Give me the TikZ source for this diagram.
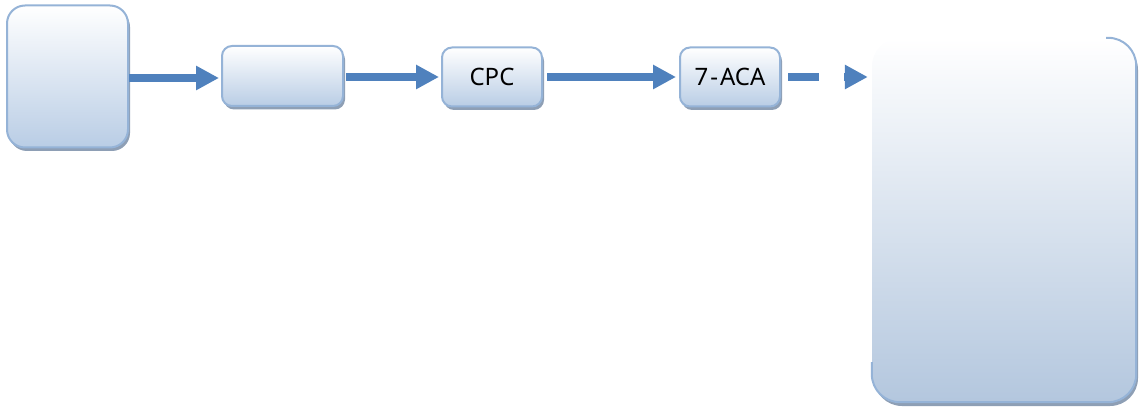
\documentclass[tikz,border=0pt]{standalone}
\usepackage{fontspec}
\newfontfamily\labelfont{Noto Sans}
\usetikzlibrary{arrows.meta,shadows}
\definecolor{boxborder}{HTML}{95B3D7}
\definecolor{boxbottom}{HTML}{B9CDE5}
\definecolor{shadowcol}{HTML}{8E9FB5}
\definecolor{arrowcol}{HTML}{4F81BD}
\tikzset{
  stepbox/.style={rounded corners=#1, draw=boxborder, line width=2pt,
    top color=white, bottom color=boxbottom, inner sep=0pt,
    general shadow={fill=shadowcol, shadow xshift=2pt, shadow yshift=-3.5pt},
    font=\labelfont\fontsize{24}{28}\selectfont},
  flow/.style={draw=arrowcol, line width=8pt,
    -{Triangle[length=23pt,width=23pt]}}
}
\begin{document}
\begin{tikzpicture}[x=1pt,y=-1pt]
\useasboundingbox (0,0) rectangle (1140,414);
\node[stepbox=18pt, minimum width=121pt, minimum height=142pt] (src) at (67.5,76.5) {};
\node[stepbox=10pt, minimum width=121pt, minimum height=60pt] (mid) at (282.5,76) {};
\node[stepbox=10pt, minimum width=100pt, minimum height=59pt] (cpc) at (492,77) {CPC};
\node[stepbox=10pt, minimum width=100pt, minimum height=59pt] (aca) at (730,77) {7{\kern2pt}-{\kern2pt}ACA};
% large box: fill and shadow, border only on right and bottom
\node[rounded corners=28pt, top color=white, bottom color=boxbottom!97!black, inner sep=0pt,
  general shadow={fill=shadowcol, shadow xshift=2pt, shadow yshift=-4pt},
  minimum width=264pt, minimum height=364pt] (big) at (1004,220) {};
\draw[boxborder, line width=2pt, rounded corners=28pt]
  ([xshift=-30pt]big.north east) -- (big.north east) -- (big.south east)
  -- (big.south west) -- ([yshift=40pt]big.south west);
\draw[flow] ([yshift=-1.5pt]src.east) -- ([yshift=-1.5pt,xshift=-2pt]src.east -| mid.west);
\draw[flow, shorten <=2pt] ([yshift=-1pt]mid.east) -- ([yshift=-1pt,xshift=-2pt]mid.east -| cpc.west);
\draw[flow, shorten <=4pt] ([yshift=0pt]cpc.east) -- ([yshift=0pt,xshift=-3pt]cpc.east -| aca.west);
\coordinate (dashend) at ([yshift=0pt,xshift=-4pt]aca.east -| big.west);
\draw[flow, dash pattern=on 31pt off 25pt, shorten <=7pt] (aca.east) -- (dashend);
\end{tikzpicture}
\end{document}
